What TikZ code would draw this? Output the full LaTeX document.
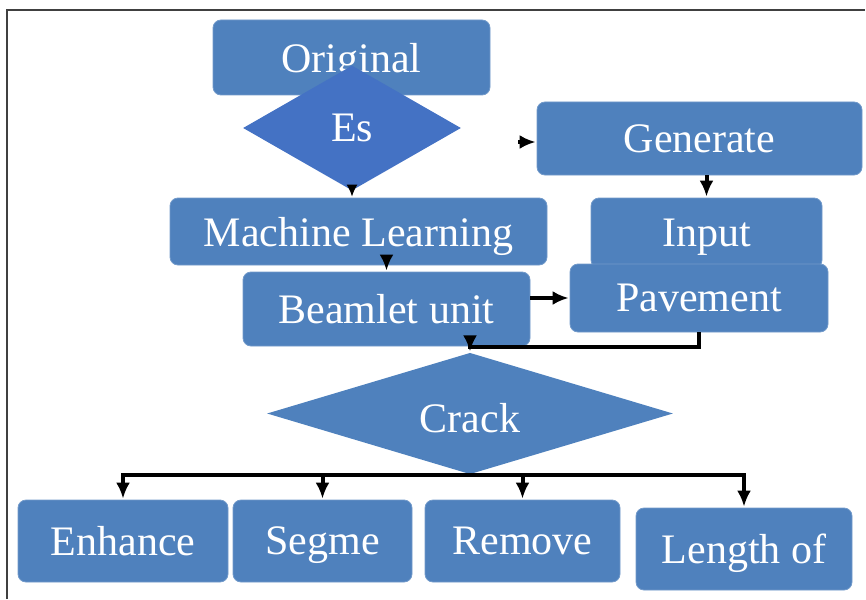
\documentclass[tikz,border=0pt]{standalone}
\usepackage{fontspec}
\setmainfont{Liberation Serif}
\usepackage{tikz}
\usetikzlibrary{
        arrows.meta,
        positioning,
        shapes,
        shapes.geometric
    }
\definecolor{boxblue}{HTML}{4F81BD}
\definecolor{esblue}{HTML}{4472C4}
\tikzset{>={Latex[length=8pt,width=7pt]},shorten >=0.5pt}
\tikzset{
    block/.style={rectangle,rounded corners=4pt,fill=boxblue,draw=boxblue!80!white,
        line width=0.4pt,text=white,inner sep=0pt,text depth=0pt,
        font=\fontsize{21}{25}\selectfont},
    decision/.style={diamond,fill=boxblue,text=white,inner sep=0pt,text depth=0pt,
        font=\fontsize{21}{25}\selectfont},
    flow/.style={->,line width=2pt}
}

\begin{document}
\begin{tikzpicture}[x=0.5pt,y=-0.5pt]
    \useasboundingbox (0,0) rectangle (866,599);
    % frame
    \draw[black!75,line width=1pt] (7,599) -- (7,10) -- (866,10);
    % top part
    \node[block,minimum width=138.5pt,minimum height=37.5pt] (orig) at (351.5,57.5) {Original};
    \node[decision,fill=esblue,minimum width=109pt,minimum height=62.5pt] (es) at (352,128) {Es};
    \node[block,minimum width=162.5pt,minimum height=36.5pt] (gen) at (699.5,138.5) {Generate};
    \node[block,minimum width=115.5pt,minimum height=35pt] (input) at (706.5,233) {Input};
    \node[block,minimum width=129pt,minimum height=34pt] (pave) at (699,298) {Pavement};
    \node[block,minimum width=188.5pt,minimum height=33.5pt] (ml) at (358.5,231.5) {Machine Learning};
    \node[block,minimum width=143.5pt,minimum height=37pt] (beam) at (386.5,309) {Beamlet unit};
    % decision and results
    \node[decision,minimum width=203pt,minimum height=58.5pt] (crack) at (470,413.5) {\raisebox{-4pt}{Crack}};
    \node[block,minimum width=105pt,minimum height=41pt] (enh) at (123,541) {Enhance};
    \node[block,minimum width=89.5pt,minimum height=41pt] (seg) at (322.5,541) {Segme};
    \node[block,minimum width=97.5pt,minimum height=41pt] (rem) at (522.5,541) {Remove};
    \node[block,minimum width=108pt,minimum height=41pt] (len) at (744,549) {Length of};
    \coordinate (genin) at (518,142);

    \draw[-{Latex[length=6pt,width=5.5pt]},line width=0.8pt] (es.south) -- (es.south |- ml.north);
    \draw[flow] (genin) -- (genin -| gen.west);
    \draw[flow] (input.north |- gen.south) -- (input.north);
    \draw[flow] ([yshift=4pt]beam.north |- ml.south) -- (beam.north);
    \draw[flow] (pave.west -| beam.east) -- (pave.west);
    \draw[flow] (pave.south) -- ++(0,15) -| (crack.north);
    \foreach \n in {enh,seg,rem,len}
        \draw[flow] (crack.south) -| (\n.north);
\end{tikzpicture}
\end{document}
